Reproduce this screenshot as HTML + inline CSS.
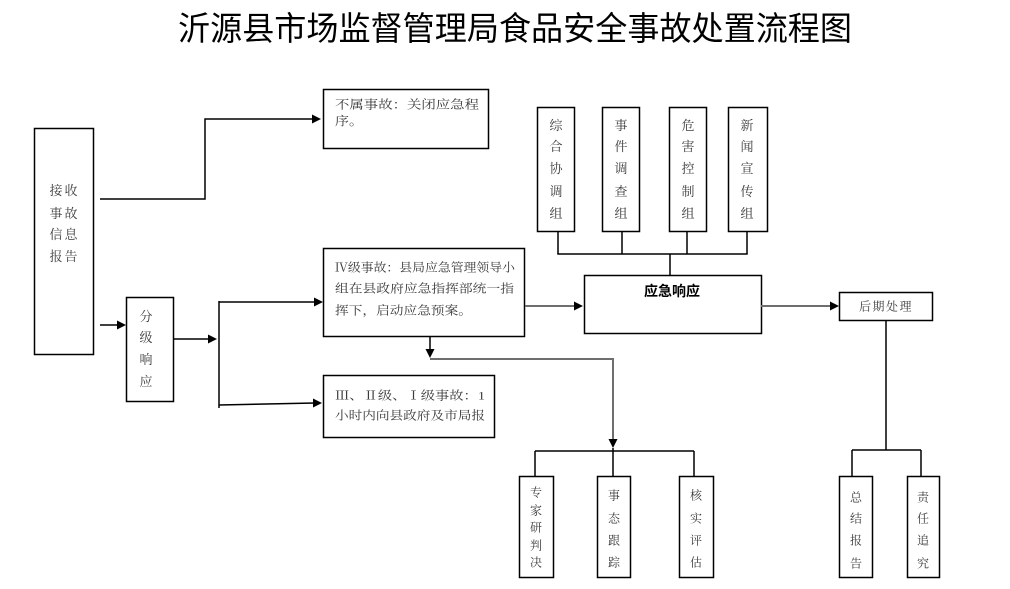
<!DOCTYPE html>
<html>
<head>
<meta charset="utf-8">
<style>
  html,body{margin:0;padding:0;background:#fff;}
  svg{display:block;}
  .t{font-family:"Liberation Serif","Noto Serif CJK SC","Noto Sans CJK SC",serif;fill:#3a3a3a;font-size:12px;}
  .v{font-family:"Liberation Serif","Noto Serif CJK SC","Noto Sans CJK SC",serif;fill:#3a3a3a;font-size:13px;text-anchor:middle;}
  .title{font-family:"Liberation Sans","Noto Sans CJK SC",sans-serif;fill:#000;font-size:33px;}
  .b{fill:none;stroke:#000;stroke-width:1.5;}
  .l{fill:none;stroke:#000;stroke-width:1.5;}
  .g{fill:none;stroke:#6e6e6e;stroke-width:2;}
  .a{fill:#000;stroke:none;}
</style>
</head>
<body>
<svg width="1010" height="589" viewBox="0 0 1010 589" xmlns="http://www.w3.org/2000/svg">
  <!-- Title -->
  <text class="title" x="178" y="40" textLength="674" lengthAdjust="spacingAndGlyphs">沂源县市场监督管理局食品安全事故处置流程图</text>

  <!-- 接收事故信息报告 -->
  <rect class="b" x="34.5" y="128.5" width="59" height="226"/>
  <text class="v" x="56 71" y="195">接收</text>
  <text class="v" x="56 71" y="218">事故</text>
  <text class="v" x="56 71" y="239">信息</text>
  <text class="v" x="56 71" y="261">报告</text>

  <!-- to 不属事故 -->
  <polyline class="l" points="100,199 205,199 205,119 314,119"/>
  <polygon class="a" points="312,114.5 321,119 312,123.5"/>

  <!-- to 分级响应 -->
  <line class="l" x1="100" y1="325" x2="119" y2="325"/>
  <polygon class="a" points="117,320.5 126,325 117,329.5"/>

  <!-- 分级响应 -->
  <rect class="b" x="126.5" y="297.5" width="47" height="104"/>
  <text class="v" x="146" y="321">分</text>
  <text class="v" x="146" y="342">级</text>
  <text class="v" x="146" y="364">响</text>
  <text class="v" x="146" y="386">应</text>

  <line class="l" x1="173" y1="339" x2="210" y2="339"/>
  <polygon class="a" points="208,334.5 217,339 208,343.5"/>
  <line class="l" x1="219" y1="301" x2="219" y2="408"/>
  <line class="l" x1="219" y1="302" x2="316" y2="302"/>
  <polygon class="a" points="314,297.5 323,302 314,306.5"/>
  <line class="l" x1="219" y1="405" x2="315" y2="403"/>
  <polygon class="a" points="313,398.5 322,403 313,407.5"/>

  <!-- 不属事故 box -->
  <rect class="b" x="323.5" y="89.5" width="165" height="59"/>
  <text class="t" x="335" y="108.5" textLength="144" lengthAdjust="spacingAndGlyphs">不属事故：关闭应急程</text>
  <text class="t" x="335" y="125" textLength="28" lengthAdjust="spacingAndGlyphs">序。</text>

  <!-- IV box -->
  <rect class="b" x="323.5" y="248.5" width="201" height="88"/>
  <text class="t" x="335" y="271.5" textLength="180" lengthAdjust="spacingAndGlyphs">Ⅳ级事故：县局应急管理领导小</text>
  <text class="t" x="335" y="292.5" textLength="179" lengthAdjust="spacingAndGlyphs">组在县政府应急指挥部统一指</text>
  <text class="t" x="335" y="314.5" textLength="137" lengthAdjust="spacingAndGlyphs">挥下，启动应急预案。</text>

  <!-- III box -->
  <rect class="b" x="323.5" y="375.5" width="171" height="62"/>
  <text class="t" x="335" y="399.5" textLength="150" lengthAdjust="spacingAndGlyphs">Ⅲ、Ⅱ级、Ⅰ级事故：1</text>
  <text class="t" x="335" y="419.5" textLength="150" lengthAdjust="spacingAndGlyphs">小时内向县政府及市局报</text>

  <!-- IV -> 应急响应 -->
  <line class="g" x1="525" y1="306" x2="576" y2="306"/>
  <polygon class="a" points="574,301.5 583,306 574,310.5"/>

  <!-- IV down -->
  <line class="l" x1="430" y1="337" x2="430" y2="350"/>
  <polygon class="a" points="425.5,349 434.5,349 430,358"/>
  <polyline class="g" points="430,359 613,359 613,440"/>
  <polygon class="a" points="608.5,439 617.5,439 613,448"/>
  <line class="l" x1="535" y1="451" x2="694" y2="451"/>
  <line class="l" x1="535" y1="451" x2="535" y2="476"/>
  <line class="l" x1="613" y1="448" x2="613" y2="476"/>
  <line class="l" x1="694" y1="451" x2="694" y2="476"/>

  <!-- bottom middle boxes -->
  <rect class="b" x="519.5" y="476.5" width="34" height="101"/>
  <text class="v" x="536" y="496.5" style="font-size:12px">专</text>
  <text class="v" x="536" y="514.5" style="font-size:12px">家</text>
  <text class="v" x="536" y="531.5" style="font-size:12px">研</text>
  <text class="v" x="536" y="549.5" style="font-size:12px">判</text>
  <text class="v" x="536" y="566.5" style="font-size:12px">决</text>

  <rect class="b" x="597.5" y="476.5" width="33" height="101"/>
  <text class="v" x="614" y="499.5" style="font-size:12px">事</text>
  <text class="v" x="614" y="522.5" style="font-size:12px">态</text>
  <text class="v" x="614" y="544.5" style="font-size:12px">跟</text>
  <text class="v" x="614" y="566.5" style="font-size:12px">踪</text>

  <rect class="b" x="679.5" y="476.5" width="34" height="101"/>
  <text class="v" x="696" y="499.5" style="font-size:12px">核</text>
  <text class="v" x="696" y="522.5" style="font-size:12px">实</text>
  <text class="v" x="696" y="544.5" style="font-size:12px">评</text>
  <text class="v" x="696" y="566.5" style="font-size:12px">估</text>

  <!-- top group boxes -->
  <rect class="b" x="537.5" y="107.5" width="37" height="124"/>
  <text class="v" x="556" y="130">综</text>
  <text class="v" x="556" y="151">合</text>
  <text class="v" x="556" y="173">协</text>
  <text class="v" x="556" y="196">调</text>
  <text class="v" x="556" y="218">组</text>

  <rect class="b" x="602.5" y="107.5" width="37" height="124"/>
  <text class="v" x="621" y="130">事</text>
  <text class="v" x="621" y="151">件</text>
  <text class="v" x="621" y="173">调</text>
  <text class="v" x="621" y="196">查</text>
  <text class="v" x="621" y="218">组</text>

  <rect class="b" x="669.5" y="107.5" width="37" height="124"/>
  <text class="v" x="688" y="130">危</text>
  <text class="v" x="688" y="151">害</text>
  <text class="v" x="688" y="173">控</text>
  <text class="v" x="688" y="196">制</text>
  <text class="v" x="688" y="218">组</text>

  <rect class="b" x="728.5" y="107.5" width="39" height="124"/>
  <text class="v" x="747" y="130">新</text>
  <text class="v" x="747" y="151">闻</text>
  <text class="v" x="747" y="173">宣</text>
  <text class="v" x="747" y="196">传</text>
  <text class="v" x="747" y="218">组</text>

  <line class="l" x1="558" y1="231" x2="558" y2="254"/>
  <line class="l" x1="622" y1="231" x2="622" y2="254"/>
  <line class="l" x1="687" y1="231" x2="687" y2="254"/>
  <line class="l" x1="747" y1="231" x2="747" y2="254"/>
  <line class="l" x1="557.3" y1="254" x2="747.7" y2="254"/>
  <line class="l" x1="670" y1="254" x2="670" y2="276"/>

  <!-- 应急响应 -->
  <rect class="b" x="584.5" y="275.5" width="177" height="58"/>
  <text x="672" y="296" text-anchor="middle" style="font-family:'Liberation Sans','Noto Sans CJK SC',sans-serif;font-weight:bold;font-size:14px;fill:#000">应急响应</text>

  <line class="g" x1="761" y1="306" x2="832" y2="306"/>
  <polygon class="a" points="830,301.5 839,306 830,310.5"/>

  <!-- 后期处理 -->
  <rect class="b" x="839.5" y="292.5" width="93" height="28"/>
  <text class="t" x="886" y="310.5" text-anchor="middle" style="letter-spacing:1.5px">后期处理</text>

  <line class="l" x1="886" y1="320" x2="886" y2="450"/>
  <line class="l" x1="852" y1="450" x2="921" y2="450"/>
  <line class="l" x1="852" y1="450" x2="852" y2="476"/>
  <line class="l" x1="921" y1="450" x2="921" y2="476"/>

  <rect class="b" x="839.5" y="476.5" width="33" height="101"/>
  <text class="v" x="856" y="501.5" style="font-size:12px">总</text>
  <text class="v" x="856" y="522.5" style="font-size:12px">结</text>
  <text class="v" x="856" y="544.5" style="font-size:12px">报</text>
  <text class="v" x="856" y="567.5" style="font-size:12px">告</text>

  <rect class="b" x="907.5" y="476.5" width="32" height="101"/>
  <text class="v" x="923" y="501.5" style="font-size:12px">责</text>
  <text class="v" x="923" y="522.5" style="font-size:12px">任</text>
  <text class="v" x="923" y="544.5" style="font-size:12px">追</text>
  <text class="v" x="923" y="567.5" style="font-size:12px">究</text>
</svg>
</body>
</html>
